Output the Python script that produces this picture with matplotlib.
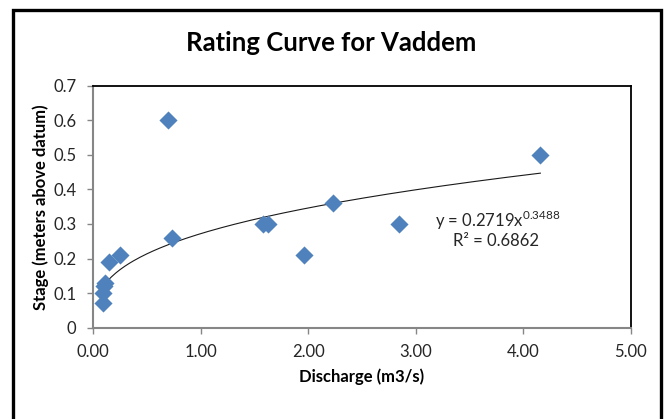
import matplotlib.pyplot as plt
import matplotlib.patches as patches
import numpy as np

plt.rcParams['font.family'] = ['Lato', 'DejaVu Sans']
plt.rcParams['mathtext.fontset'] = 'custom'
plt.rcParams['mathtext.rm'] = 'Lato'

# Discharge (m3/s) and stage (m)
discharge = [0.09, 0.09, 0.10, 0.11, 0.15, 0.25, 0.70, 0.73, 1.58, 1.63, 1.96, 2.23, 2.85, 4.16]
stage = [0.07, 0.10, 0.12, 0.13, 0.19, 0.21, 0.60, 0.26, 0.30, 0.30, 0.21, 0.36, 0.30, 0.50]

# power trendline shown on the chart
coef_a = 0.2719
coef_b = 0.3488
r2 = 0.6862

x_ticks = [0, 1, 2, 3, 4, 5]
y_ticks = [0, 0.1, 0.2, 0.3, 0.4, 0.5, 0.6, 0.7]

fig = plt.figure(figsize=(6.68, 4.19), dpi=100)
ax = fig.add_axes([93 / 668, 1 - 327.7 / 419, 537.7 / 668, 242 / 419])

# outer chart border
fig.patches.append(patches.Rectangle((13 / 668, -0.05), 648 / 668, 1.05 - 10 / 419,
                                     transform=fig.transFigure, fill=False,
                                     edgecolor='black', linewidth=2.4))

xs = np.linspace(min(discharge), max(discharge), 200)
ax.plot(xs, coef_a * xs ** coef_b, color='#1a1a1a', linewidth=0.8, zorder=2)
ax.scatter(discharge, stage, marker='D', s=85, color='#4F81BD', zorder=3, linewidths=0)

ax.set_xlim(0, 5)
ax.set_ylim(0, 0.7)
ax.set_xticks(x_ticks)
ax.set_xticklabels([f'{v:.2f}' for v in x_ticks])
ax.set_yticks(y_ticks)
ax.set_yticklabels(['0'] + [f'{v:.1f}' for v in y_ticks[1:]])
ax.tick_params(direction='out', length=4, width=1, color='#868686',
               labelsize=12, labelcolor='#262626')
ax.tick_params(axis='x', pad=8)
ax.tick_params(axis='y', pad=8)

for side in ['left', 'bottom']:
    ax.spines[side].set_color('#868686')
    ax.spines[side].set_linewidth(1.5)
for side in ['top', 'right']:
    ax.spines[side].set_color('black')
    ax.spines[side].set_linewidth(1.3)

fig.text(331 / 668, 1 - 43 / 419, 'Rating Curve for Vaddem', ha='center', va='center',
         fontsize=18.5, fontweight='bold')
ax.set_xlabel('Discharge (m3/s)', fontsize=12, fontweight='bold', labelpad=6)
ax.set_ylabel('Stage (meters above datum)', fontsize=12, fontweight='bold', labelpad=3)

ax.text(0.752, 0.445, r'y = 0.2719x$^{\mathregular{0.3488}}$', transform=ax.transAxes,
        ha='center', va='center', fontsize=12, color='#262626')
ax.text(0.75, 0.36, f'R² = {r2}', transform=ax.transAxes,
        ha='center', va='center', fontsize=12, color='#262626')

fig.savefig('out.png', dpi=100, facecolor='white')
